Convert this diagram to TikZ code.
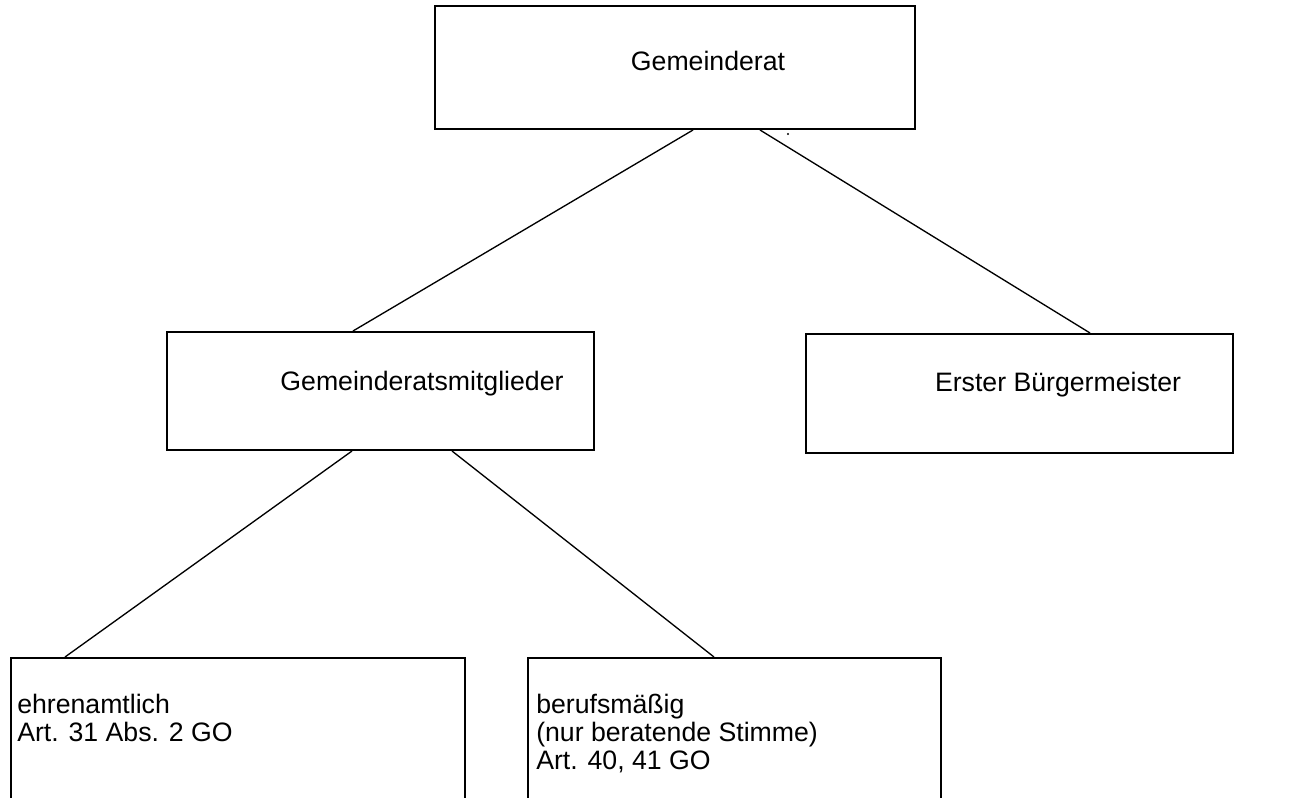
\documentclass[tikz,border=0pt]{standalone}
\usepackage{fontspec}
\setmainfont{Liberation Sans}
\begin{document}
\begin{tikzpicture}[x=0.75pt,y=-0.75pt,
  font=\fontsize{20}{21}\selectfont,
  box/.style={draw, line width=1.5pt, rectangle, inner sep=0pt, anchor=north west},
  label text/.style={inner sep=0pt, text height=10pt, text depth=10pt},
  boxtext/.style={anchor=north west, inner sep=0pt, align=left},
  link/.style={line width=1pt}]
\useasboundingbox (0,0) rectangle (1312,798);

% organisation boxes (px: width*0.75, height*0.75)
\node[box, minimum width=360pt, minimum height=92.25pt] (gr) at (434,5) {};
\node[box, minimum width=320.25pt, minimum height=88.5pt] (gm) at (166,331) {};
\node[box, minimum width=320.25pt, minimum height=89.25pt] (eb) at (805,333) {};
\node[box, minimum width=340.5pt, minimum height=123pt] (eh) at (10,657) {};
\node[box, minimum width=309.75pt, minimum height=123pt] (bm) at (527,657) {};

% box captions
\node[label text] (grtext) at (708,71) {Gemeinderat};
\node[label text] (gmtext) at (422,390) {Gemeinderatsmitglieder};
\node[label text] (ebtext) at (1058,391) {Erster Bürgermeister};
\node[boxtext] (ehtext) at (17,694) {ehrenamtlich\\Art. 31 Abs. 2 GO};
\node[boxtext] (bmtext) at (536,694) {berufsmäßig\\(nur beratende Stimme)\\Art. 40, 41 GO};

% x positions where the connectors meet the box edges
\coordinate (a1) at (693,0);
\coordinate (a2) at (760,0);
\coordinate (b1) at (353,0);
\coordinate (b2) at (1090,0);
\coordinate (c1) at (352,0);
\coordinate (c2) at (452,0);
\coordinate (d1) at (65,0);
\coordinate (d2) at (714,0);

\draw[link] (gr.south -| a1) -- (gm.north -| b1);
\draw[link] (gr.south -| a2) -- (eb.north -| b2);
\draw[link] (gm.south -| c1) -- (eh.north -| d1);
\draw[link] (gm.south -| c2) -- (bm.north -| d2);

% stray dot below the top box
\fill (788,134) circle[radius=1.2];
\end{tikzpicture}
\end{document}
